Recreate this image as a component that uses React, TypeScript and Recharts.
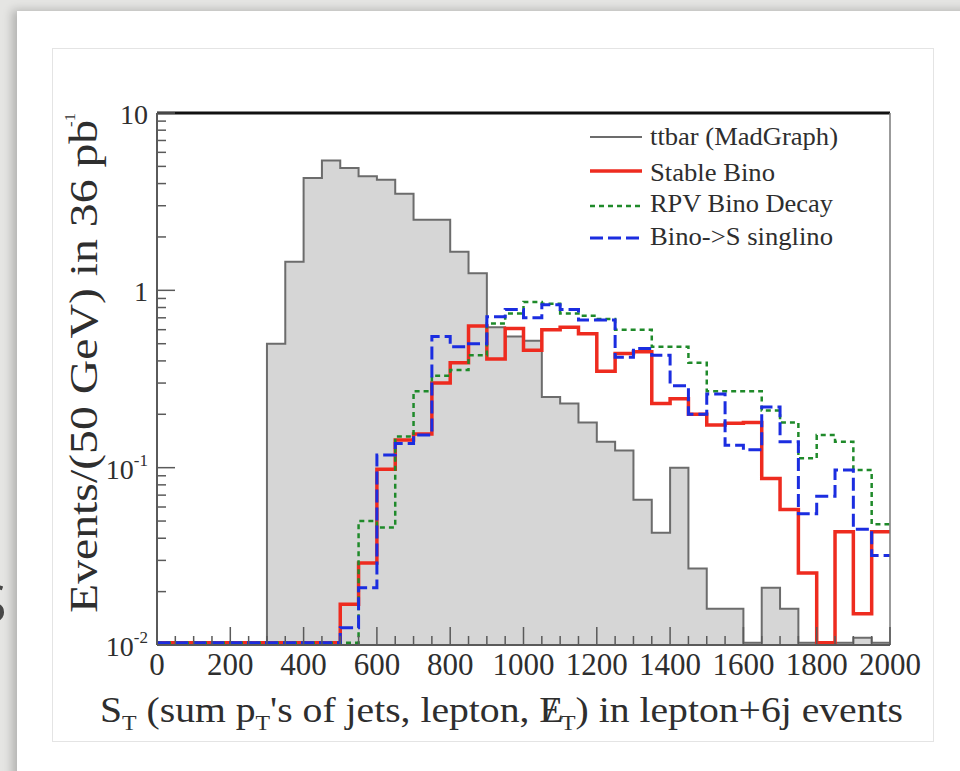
import { ComposedChart, Area, Line, XAxis, YAxis, ReferenceLine, Legend } from "recharts"

// bin edges in GeV (50 GeV bins)
const binEdges = [
    0, 50, 100, 150, 200, 250, 300, 350, 400, 450, 500, 550, 600, 650, 700, 750, 800, 850, 900, 950,
    1000, 1050, 1100, 1150, 1200, 1250, 1300, 1350, 1400, 1450, 1500, 1550, 1600, 1650, 1700, 1750, 1800, 1850, 1900, 1950,
    2000,
]

// events per bin (one value per 50 GeV bin, 40 bins)
const ttbar = [
    0, 0, 0, 0, 0, 0, 0.5, 1.45, 4.3, 5.4,
    4.9, 4.4, 4.2, 3.5, 2.5, 2.5, 1.65, 1.25, 0.62, 0.55,
    0.52, 0.25, 0.23, 0.18, 0.14, 0.125, 0.066, 0.043, 0.1, 0.027,
    0.016, 0.016, 0, 0.021, 0.016, 0, 0, 0, 0.011, 0,
]
const stableBino = [
    0, 0, 0, 0, 0, 0, 0, 0, 0, 0,
    0.017, 0.029, 0.098, 0.143, 0.155, 0.3, 0.39, 0.63, 0.41, 0.61,
    0.46, 0.6, 0.62, 0.57, 0.35, 0.44, 0.45, 0.23, 0.245, 0.2,
    0.174, 0.178, 0.18, 0.087, 0.058, 0.0255, 0, 0.0435, 0.015, 0.0435,
]
const rpvBino = [
    0, 0, 0, 0, 0, 0, 0, 0, 0, 0,
    0, 0.05, 0.046, 0.15, 0.27, 0.33, 0.355, 0.43, 0.65, 0.74,
    0.86, 0.84, 0.74, 0.72, 0.69, 0.6, 0.6, 0.48, 0.48, 0.39,
    0.27, 0.27, 0.27, 0.21, 0.18, 0.113, 0.153, 0.14, 0.097, 0.048,
]
const binoSinglino = [
    0, 0, 0, 0, 0, 0, 0, 0, 0, 0,
    0.0125, 0.021, 0.118, 0.137, 0.153, 0.55, 0.48, 0.5, 0.71, 0.78,
    0.7, 0.83, 0.78, 0.68, 0.68, 0.42, 0.47, 0.43, 0.29, 0.2,
    0.26, 0.134, 0.126, 0.22, 0.14, 0.055, 0.069, 0.097, 0.045, 0.032,
]

const xLabels = [0, 200, 400, 600, 800, 1000, 1200, 1400, 1600, 1800, 2000]
const yMajor = [0.01, 0.1, 1, 10]
const yTicks = [
    0.01, 0.02, 0.03, 0.04, 0.05, 0.06, 0.07, 0.08, 0.09,
    0.1, 0.2, 0.3, 0.4, 0.5, 0.6, 0.7, 0.8, 0.9,
    1, 2, 3, 4, 5, 6, 7, 8, 9, 10,
]

// empty bins are drawn just above the bottom of the log axis, like ROOT does
const FLOOR = 0.01
const EMPTY = 0.0103
const show = (v: number) => (v > EMPTY ? v : EMPTY)
const lastBin = ttbar.length - 1

// step points at the bin edges, the last edge repeats the last bin
const data = binEdges.map((x, i) => {
    const k = Math.min(i, lastBin)
    return {
        x,
        ttbar: show(ttbar[k]),
        stable: show(stableBino[k]),
        rpv: show(rpvBino[k]),
        singlino: show(binoSinglino[k]),
    }
})

const SERIF = "'Liberation Serif', 'Times New Roman', serif"
const INK = "#2e2e2e"
const AXIS = "#5a5a5a"

const styles = {
    ttbar: { color: "#6c6c6c", width: 2, dash: undefined as string | undefined },
    stable: { color: "#ee2b1f", width: 3.5, dash: undefined as string | undefined },
    rpv: { color: "#1f8a2a", width: 2.5, dash: "5 4" },
    singlino: { color: "#1b2de0", width: 3, dash: "13 5" },
}

const legendRows = [
    { key: "ttbar", name: "ttbar (MadGraph)", lineY: 17, textY: 25, len: 188 },
    { key: "stable", name: "Stable Bino", lineY: 51, textY: 61, len: 125 },
    { key: "rpv", name: "RPV Bino Decay", lineY: 86, textY: 92, len: 183 },
    { key: "singlino", name: "Bino->S singlino", lineY: 118, textY: 125, len: 183 },
] as const

const XTick = ({ x, y, payload }: any) => {
    const major = xLabels.includes(payload.value)
    return (
        <g>
            <line x1={x} x2={x} y1={y} y2={y - (major ? 18 : 9)} stroke={AXIS} strokeWidth={1.5} />
            {major && (
                <text x={x} y={y + 30} textAnchor="middle" fontSize={31} fontFamily={SERIF} fill={INK}>
                    {payload.value}
                </text>
            )}
        </g>
    )
}

const YTick = ({ x, y, payload }: any) => {
    const v = payload.value
    const major = yMajor.includes(v)
    let base = ""
    let sup = ""
    if (v === 10) base = "10"
    if (v === 1) base = "1"
    if (v === 0.1) { base = "10"; sup = "-1" }
    if (v === 0.01) { base = "10"; sup = "-2" }
    return (
        <g>
            <line x1={x} x2={x + (major ? 18 : 9)} y1={y} y2={y} stroke={AXIS} strokeWidth={1.5} />
            {major && (
                <text x={x - 9} y={y + 11} textAnchor="end" fontSize={28} fontFamily={SERIF} fill={INK}>
                    {base}
                    {sup && <tspan fontSize={17} dy={-13}>{sup}</tspan>}
                </text>
            )}
        </g>
    )
}

const LegendBox = () => (
    <svg width={280} height={140}>
        {legendRows.map((r) => {
            const s = styles[r.key]
            return (
                <g key={r.key}>
                    <line x1={5} x2={57} y1={r.lineY} y2={r.lineY} stroke={s.color} strokeWidth={s.width} strokeDasharray={s.dash} />
                    <text x={65} y={r.textY} fontSize={26} fontFamily={SERIF} fill={INK} textLength={r.len} lengthAdjust="spacingAndGlyphs">
                        {r.name}
                    </text>
                </g>
            )
        })}
    </svg>
)

export default function App() {
    return (
        <div style={{ position: "absolute", left: 0, top: 0, width: 960, height: 771, overflow: "hidden", background: "#e5e5e3" }}>
            {/* slide card */}
            <div style={{ position: "absolute", left: 17, top: 11, width: 960, height: 780, background: "#fff", boxShadow: "-5px -1px 9px rgba(0,0,0,0.22)" }} />
            <div style={{ position: "absolute", left: -22, top: 572, fontFamily: "'Open Sans', sans-serif", fontSize: 52, color: "#474747", lineHeight: "60px" }}>S</div>
            {/* figure frame */}
            <div style={{ position: "absolute", left: 52, top: 48, width: 880, height: 692, border: "1px solid #e4e4e4" }} />

            <div style={{ position: "absolute", left: 0, top: 0 }}>
                <ComposedChart width={960} height={771} data={data} margin={{ top: 113, right: 70, bottom: 86, left: 97 }}>
                    <XAxis
                        dataKey="x"
                        type="number"
                        domain={[0, 2000]}
                        ticks={binEdges}
                        interval={0}
                        allowDataOverflow
                        height={40}
                        tickSize={0}
                        tickMargin={0}
                        tick={<XTick />}
                        axisLine={{ stroke: AXIS, strokeWidth: 2 }}
                        tickLine={false}
                    />
                    <YAxis
                        scale="log"
                        domain={[FLOOR, 10]}
                        ticks={yTicks}
                        interval={0}
                        allowDataOverflow
                        width={60}
                        tickSize={0}
                        tickMargin={0}
                        tick={<YTick />}
                        axisLine={{ stroke: AXIS, strokeWidth: 2 }}
                        tickLine={false}
                    />
                    <Area
                        type="stepAfter"
                        dataKey="ttbar"
                        baseValue={FLOOR}
                        fill="#d6d6d6"
                        fillOpacity={1}
                        stroke={styles.ttbar.color}
                        strokeWidth={styles.ttbar.width}
                        isAnimationActive={false}
                        dot={false}
                        activeDot={false}
                    />
                    <Line type="stepAfter" dataKey="stable" stroke={styles.stable.color} strokeWidth={styles.stable.width} dot={false} activeDot={false} isAnimationActive={false} />
                    <Line type="stepAfter" dataKey="rpv" stroke={styles.rpv.color} strokeWidth={styles.rpv.width} strokeDasharray={styles.rpv.dash} dot={false} activeDot={false} isAnimationActive={false} />
                    <Line type="stepAfter" dataKey="singlino" stroke={styles.singlino.color} strokeWidth={styles.singlino.width} strokeDasharray={styles.singlino.dash} dot={false} activeDot={false} isAnimationActive={false} />
                    <ReferenceLine y={10} stroke="#111" strokeWidth={3} />
                    <ReferenceLine x={2000} stroke="#7a7a7a" strokeWidth={1.5} />
                    <Legend
                        layout="horizontal"
                        verticalAlign="middle"
                        content={<LegendBox />}
                        wrapperStyle={{ position: "absolute", left: 585, top: 120, width: 280, height: 140 }}
                    />
                </ComposedChart>
            </div>

            {/* axis titles */}
            <svg width={960} height={771} style={{ position: "absolute", left: 0, top: 0, pointerEvents: "none" }}>
                <text x={100} y={722} fontSize={35} fontFamily={SERIF} fill={INK} textLength={803} lengthAdjust="spacingAndGlyphs">
                    S<tspan fontSize={21} dy={8}>T</tspan>
                    <tspan dy={-8}> (sum p</tspan>
                    <tspan fontSize={21} dy={8}>T</tspan>
                    <tspan dy={-8}>'s of jets, lepton, E</tspan>
                    <tspan dx={-16}>/</tspan>
                    <tspan fontSize={21} dx={4} dy={8}>T</tspan>
                    <tspan dy={-8}>) in lepton+6j events</tspan>
                </text>
                <text
                    transform="translate(97, 363) rotate(-90)"
                    textAnchor="middle"
                    fontSize={40}
                    fontFamily={SERIF}
                    fill={INK}
                    textLength={500}
                    lengthAdjust="spacingAndGlyphs"
                >
                    Events/(50 GeV) in 36 pb<tspan fontSize={14} dy={-22} dx={-6}>-1</tspan>
                </text>
            </svg>
        </div>
    )
}
